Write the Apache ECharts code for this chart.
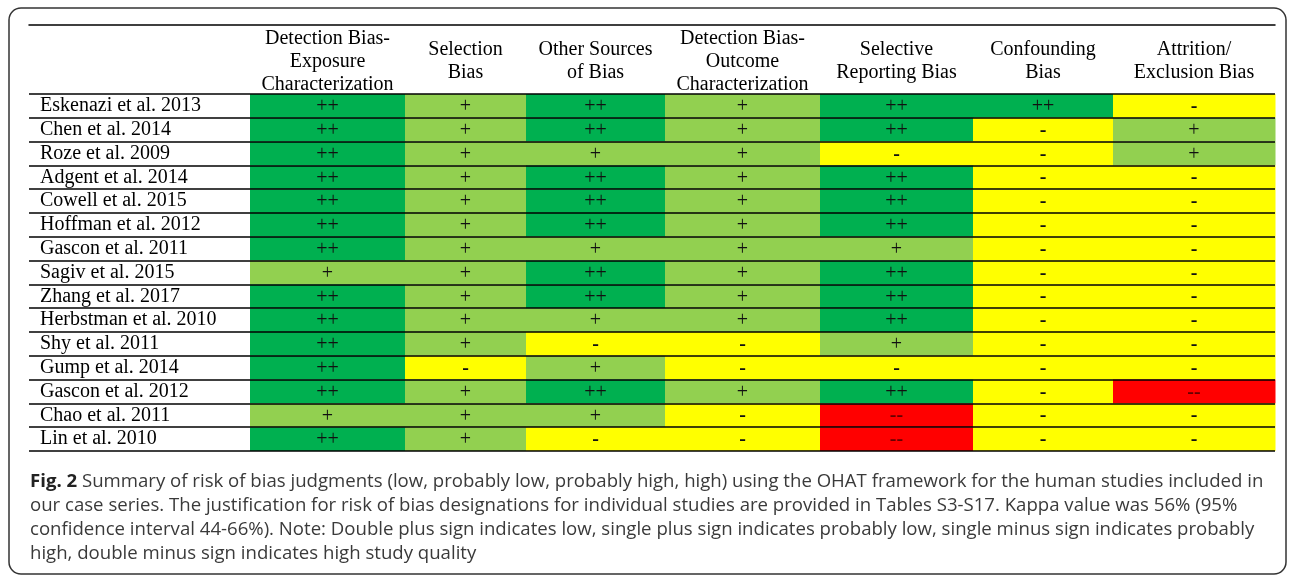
<!DOCTYPE html>
<html>
<head>
<meta charset="utf-8">
<script src="https://cdn.jsdelivr.net/npm/echarts@6/dist/echarts.min.js"></script>
<style>html,body{margin:0;padding:0;background:#fff;}#chart{width:1292px;height:578px;}</style>
</head>
<body>
<div id="chart"></div>
<script>
// ---- Data ----
const studies = [
  'Eskenazi et al. 2013','Chen et al. 2014','Roze et al. 2009','Adgent et al. 2014',
  'Cowell et al. 2015','Hoffman et al. 2012','Gascon et al. 2011','Sagiv et al. 2015',
  'Zhang et al. 2017','Herbstman et al. 2010','Shy et al. 2011','Gump et al. 2014',
  'Gascon et al. 2012','Chao et al. 2011','Lin et al. 2010'
];
const domains = [
  'Detection Bias-\nExposure\nCharacterization',
  'Selection\nBias',
  'Other Sources\nof Bias',
  'Detection Bias-\nOutcome\nCharacterization',
  'Selective\nReporting Bias',
  'Confounding\nBias',
  'Attrition/\nExclusion Bias'
];
// 2 = "++" (low), 1 = "+" (probably low), -1 = "-" (probably high), -2 = "--" (high)
const detectionExposure = [2,2,2,2,2,2,2,1,2,2,2,2,2,1,2];
const selection         = [1,1,1,1,1,1,1,1,1,1,1,-1,1,1,1];
const otherSources      = [2,2,1,2,2,2,1,2,2,1,-1,1,2,1,-1];
const detectionOutcome  = [1,1,1,1,1,1,1,1,1,1,-1,-1,1,-1,-1];
const selectiveReport   = [2,2,-1,2,2,2,1,2,2,2,1,-1,2,-2,-2];
const confounding       = [2,-1,-1,-1,-1,-1,-1,-1,-1,-1,-1,-1,-1,-1,-1];
const attrition         = [-1,1,1,-1,-1,-1,-1,-1,-1,-1,-1,-1,-2,-1,-1];
const columns = [detectionExposure, selection, otherSources, detectionOutcome, selectiveReport, confounding, attrition];

const scoreSymbol = {'2':'++','1':'+','-1':'-','-2':'--'};
const scoreColor  = {'2':'#00B050','1':'#92D050','-1':'#FFFF00','-2':'#FF0000'};

// ---- Layout (column widths in axis units; first is the study-name column) ----
const labelColWidth = 221;
const colWidths = [155,121,139,155,153,140,162];
const colStarts = [];
let acc = labelColWidth;
colWidths.forEach(w => { colStarts.push(acc); acc += w; });
const totalWidth = acc;
const colCenters = colStarts.map((s,i) => s + colWidths[i]/2);

const cellData = [];
columns.forEach((arr, c) => arr.forEach((v, r) => cellData.push([c, r, v])));

const serif = '"Liberation Serif","Times New Roman",serif';
const sans = '"Open Sans","Noto Sans",sans-serif';

const chart = echarts.init(document.getElementById('chart'));
chart.setOption({
  animation: false,
  backgroundColor: '#fff',
  title: {
    left: 25, top: 465,
    text: '{b|Fig. 2} Summary of risk of bias judgments (low, probably low, probably high, high) using the OHAT framework for the human studies included in\n' +
          'our case series. The justification for risk of bias designations for individual studies are provided in Tables S3-S17. Kappa value was 56% (95%\n' +
          'confidence interval 44-66%). Note: Double plus sign indicates low, single plus sign indicates probably low, single minus sign indicates probably\n' +
          'high, double minus sign indicates high study quality',
    textStyle: {
      fontFamily: sans, fontSize: 18.6, fontWeight: 'normal', color: '#3a3a3a', lineHeight: 24,
      rich: { b: { fontFamily: sans, fontSize: 18.6, fontWeight: 'bold', color: '#222', lineHeight: 24 } }
    }
  },
  graphic: [{
    type: 'rect', silent: true,
    shape: { x: 9, y: 8, width: 1277, height: 566, r: 12 },
    style: { fill: 'none', stroke: '#333', lineWidth: 1.5 }
  }],
  grid: { left: 29, right: 17, top: 94, bottom: 127 },
  xAxis: {
    type: 'value', min: 0, max: totalWidth, position: 'top', offset: 69,
    axisLine: { show: true, lineStyle: { color: '#000', width: 1.5 } },
    axisTick: { show: false },
    splitLine: { show: false },
    axisLabel: {
      inside: true, margin: 36.5, customValues: colCenters,
      verticalAlign: 'middle', align: 'center',
      fontFamily: serif, fontSize: 20, color: '#000', lineHeight: 23,
      formatter: function (v) {
        for (let i = 0; i < colCenters.length; i++) {
          if (Math.abs(colCenters[i] - v) < 0.5) return domains[i];
        }
        return '';
      }
    }
  },
  yAxis: {
    type: 'category', data: studies, inverse: true, z: 10,
    axisLine: { show: false }, axisTick: { show: false },
    splitLine: { show: true, interval: 0, lineStyle: { color: '#000', width: 1.5 } },
    axisLabel: { interval: 0, inside: true, margin: 11, align: 'left', fontFamily: serif, fontSize: 20, color: '#000' }
  },
  series: [{
    type: 'custom', z: 1,
    data: cellData,
    encode: { x: 0, y: 1 },
    renderItem: function (params, api) {
      const c = api.value(0), r = api.value(1), v = api.value(2);
      const p0 = api.coord([colStarts[c], r]);
      const p1 = api.coord([colStarts[c] + colWidths[c], r]);
      const h = api.size([0, 1])[1];
      const key = String(v);
      return {
        type: 'group',
        children: [{
          type: 'rect',
          shape: { x: p0[0], y: p0[1] - h/2, width: p1[0] - p0[0] + 0.5, height: h },
          style: { fill: scoreColor[key] }
        }, {
          type: 'text',
          style: {
            x: (p0[0] + p1[0]) / 2, y: p0[1] + 1,
            text: scoreSymbol[key], align: 'center', verticalAlign: 'middle',
            fontFamily: serif, fontSize: 20, fontWeight: v < 0 ? 'bold' : 'normal',
            fill: v === -2 ? '#600' : '#111'
          }
        }]
      };
    }
  }]
});
</script>
</body>
</html>
